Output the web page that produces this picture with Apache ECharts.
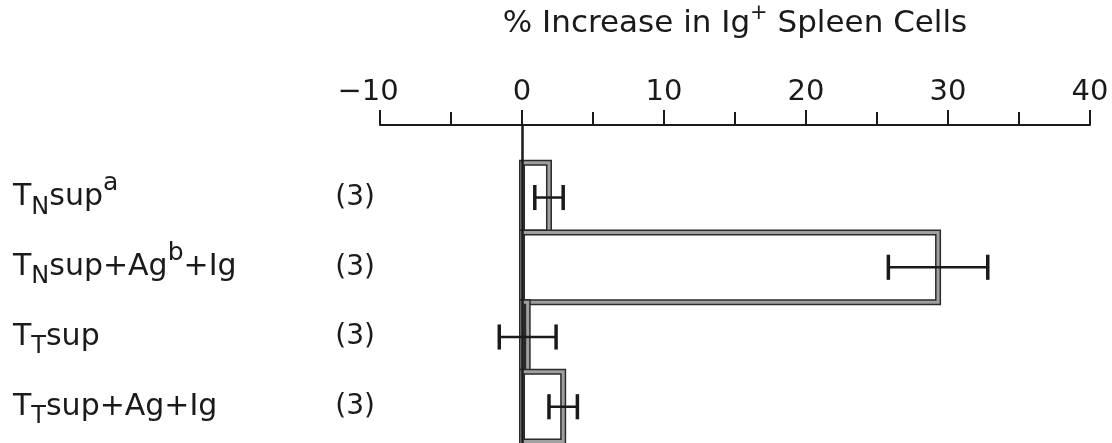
<!DOCTYPE html>
<html>
<head>
<meta charset="utf-8">
<script src="https://cdn.jsdelivr.net/npm/echarts@6/dist/echarts.min.js"></script>
<style>
html, body { margin: 0; padding: 0; background: #fff; }
#chart { width: 1112px; height: 443px; }
</style>
</head>
<body>
<div id="chart"></div>
<script>
// rows, top to bottom (rich text markup for sub/superscripts)
var rowLabels = [
    'T{sub|N}sup{sup|a}',
    'T{sub|N}sup+Ag{sup|b}+Ig',
    'T{sub|T}sup',
    'T{sub|T}sup+Ag+Ig'
];
var nCounts = ['(3)', '(3)', '(3)', '(3)'];
var meanIncrease = [1.9, 29.3, 0.4, 2.9];
var errIncrease = [1.0, 3.5, 2.0, 1.0];
var rowIndex = [0, 1, 2, 3];

var FONT = 'DejaVu Sans';
var INK = '#1a1a1a';

var myChart = echarts.init(document.getElementById('chart'));

var barData = rowIndex.map(function (i) {
    return [i, meanIncrease[i], errIncrease[i]];
});

function renderBar(params, api) {
    var i = api.value(0), v = api.value(1), e = api.value(2);
    var a = api.coord([0, i - 0.5]);
    var b = api.coord([v, i + 0.5]);
    var x = Math.min(a[0], b[0]), y = Math.min(a[1], b[1]);
    var w = Math.abs(b[0] - a[0]), h = Math.abs(b[1] - a[1]);
    var lo = api.coord([v - e, i]);
    var hi = api.coord([v + e, i]);
    var cap = api.size([0, 0.18])[1];
    return {
        type: 'group',
        children: [
            { type: 'rect', shape: { x: x, y: y, width: w, height: h },
              style: { fill: '#fff', stroke: '#2a2a2a', lineWidth: 6 } },
            { type: 'rect', shape: { x: x, y: y, width: w, height: h },
              style: { fill: 'none', stroke: '#a0a0a0', lineWidth: 3 } },
            { type: 'line', shape: { x1: lo[0], y1: lo[1], x2: hi[0], y2: hi[1] },
              style: { stroke: INK, lineWidth: 2.5 } },
            { type: 'line', shape: { x1: lo[0], y1: lo[1] - cap, x2: lo[0], y2: lo[1] + cap },
              style: { stroke: INK, lineWidth: 3.5 } },
            { type: 'line', shape: { x1: hi[0], y1: hi[1] - cap, x2: hi[0], y2: hi[1] + cap },
              style: { stroke: INK, lineWidth: 3.5 } }
        ]
    };
}

var option = {
    animation: false,
    grid: {
        left: 380,
        right: 22,
        top: 125,
        bottom: 0,
        containLabel: false,
        outerBoundsMode: 'none'
    },
    xAxis: {
        type: 'value',
        position: 'top',
        min: -10,
        max: 40,
        interval: 10,
        name: '% Increase in Ig{sup|+} Spleen Cells',
        nameLocation: 'middle',
        nameGap: 81,
        nameTextStyle: {
            fontFamily: FONT, fontSize: 31, color: INK,
            rich: {
                sup: { fontFamily: FONT, fontSize: 21, color: INK, padding: [0, 0, 20, 0] }
            }
        },
        axisLine: { onZero: false, lineStyle: { color: INK, width: 2 } },
        axisTick: { length: 15, lineStyle: { color: INK, width: 2 } },
        minorTick: { show: true, splitNumber: 2, length: 13, lineStyle: { color: INK, width: 2 } },
        splitLine: { show: false },
        axisLabel: {
            margin: 18,
            fontFamily: FONT,
            fontSize: 29,
            color: INK,
            formatter: function (v) {
                return v < 0 ? '{neg|\u2212' + Math.abs(v) + '}' : String(v);
            },
            rich: {
                neg: { fontFamily: FONT, fontSize: 29, color: INK, padding: [0, 24, 0, 0] }
            }
        }
    },
    yAxis: [
        {
            type: 'value',
            inverse: true,
            min: -1.04,
            max: 3.52,
            position: 'left',
            axisLine: { show: false, onZero: false },
            axisTick: { show: false },
            splitLine: { show: false },
            axisLabel: {
                customValues: rowIndex,
                align: 'left',
                margin: 367,
                fontFamily: FONT,
                fontSize: 30,
                color: INK,
                formatter: function (v) { return rowLabels[Math.round(v)]; },
                rich: {
                    sub: { fontFamily: FONT, fontSize: 24, color: INK, padding: [20, 0, 0, 0] },
                    sup: { fontFamily: FONT, fontSize: 25, color: INK, padding: [0, 0, 28, 0] }
                }
            }
        },
        {
            type: 'value',
            inverse: true,
            min: -1.04,
            max: 3.52,
            position: 'left',
            offset: 0,
            axisLine: { show: false, onZero: false },
            axisTick: { show: false },
            splitLine: { show: false },
            axisLabel: {
                customValues: rowIndex,
                align: 'right',
                margin: 5,
                fontFamily: FONT,
                fontSize: 28,
                color: INK,
                formatter: function (v) { return nCounts[Math.round(v)]; }
            }
        }
    ],
    series: [
        {
            type: 'custom',
            renderItem: renderBar,
            encode: { x: 1, y: 0 },
            data: barData,
            silent: true,
            markLine: {
                silent: true,
                symbol: 'none',
                label: { show: false },
                lineStyle: { color: INK, width: 2.5, type: 'solid' },
                data: [{ xAxis: 0 }]
            }
        }
    ]
};
myChart.setOption(option);
</script>
</body>
</html>
